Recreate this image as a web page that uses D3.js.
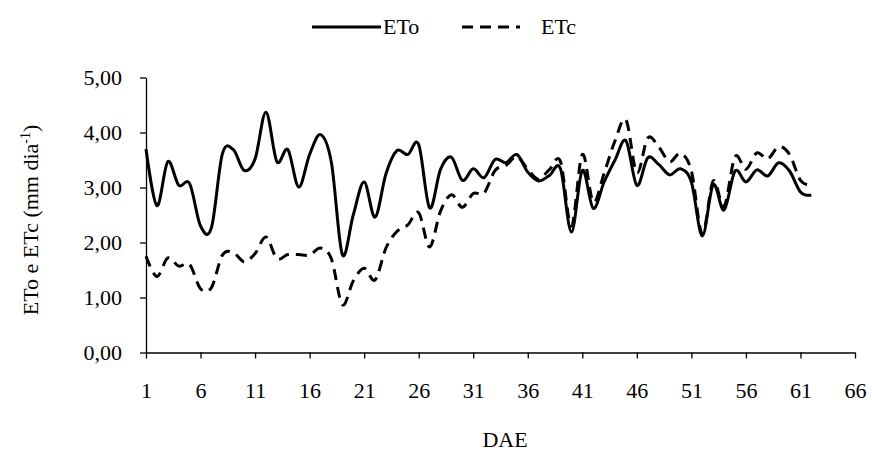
<!DOCTYPE html>
<html><head><meta charset="utf-8">
<script src="https://cdn.jsdelivr.net/npm/d3@7"></script>
<style>body{margin:0;background:#fff}svg{display:block}text{font-family:"Liberation Serif","Times New Roman",serif;fill:#000}</style>
</head><body><svg id="c" width="872" height="455"></svg>
<script>
const days = d3.range(1, 63);
const eto = [3.70,2.67,3.47,3.04,3.07,2.30,2.27,3.61,3.69,3.31,3.52,4.37,3.47,3.69,3.01,3.60,3.96,3.45,1.78,2.50,
  3.10,2.46,3.25,3.67,3.60,3.78,2.63,3.33,3.55,3.13,3.34,3.18,3.51,3.45,3.60,3.28,3.12,3.22,3.34,2.19,
  3.31,2.62,3.10,3.50,3.85,3.04,3.54,3.42,3.23,3.34,3.10,2.12,3.05,2.59,3.30,3.10,3.32,3.21,3.45,3.30,2.92,2.86];
const etc = [1.75,1.38,1.72,1.57,1.60,1.16,1.18,1.77,1.82,1.65,1.80,2.10,1.71,1.78,1.78,1.77,1.90,1.70,0.87,1.30,
  1.53,1.32,1.90,2.20,2.32,2.54,1.92,2.57,2.87,2.64,2.89,2.90,3.31,3.40,3.56,3.33,3.15,3.33,3.47,2.30,
  3.60,2.74,3.26,3.85,4.23,3.27,3.90,3.74,3.47,3.62,3.30,2.16,3.12,2.66,3.56,3.33,3.63,3.52,3.74,3.60,3.13,3.04];
const xTicks = [1,6,11,16,21,26,31,36,41,46,51,56,61,66];
const yTicks = [0,1,2,3,4,5];
const seriesNames = ["ETo","ETc"];

const svg = d3.select("#c");
const x = d3.scaleLinear().domain([1,66]).range([146,855]);
const y = d3.scaleLinear().domain([0,5]).range([352.5,77.5]);
const fmt = v => d3.format(".2f")(v).replace(".", ",");
const FS = 22;

const xa = svg.append("g").attr("transform","translate(0,352.5)")
  .call(d3.axisBottom(x).tickValues(xTicks).tickSize(6).tickPadding(24).tickSizeOuter(0));
const ya = svg.append("g").attr("transform","translate(146,0)")
  .call(d3.axisLeft(y).tickValues(yTicks).tickFormat(fmt).tickSize(6).tickPadding(18).tickSizeOuter(0));
[xa,ya].forEach(a=>{
  a.selectAll("path,line").attr("stroke","#000").attr("stroke-width",1.3);
  a.selectAll("text").attr("font-size",FS).attr("font-family","Liberation Serif");
});

const line = d3.line().x((d,i)=>x(days[i])).y(d=>y(d)).curve(d3.curveCardinal.tension(0));
svg.append("path").datum(eto).attr("d",line).attr("fill","none").attr("stroke","#000").attr("stroke-width",3);
svg.append("path").datum(etc).attr("d",line).attr("fill","none").attr("stroke","#000").attr("stroke-width",3)
  .attr("stroke-dasharray","11,7");

// legend
const lg = svg.append("g");
lg.append("line").attr("x1",312).attr("x2",381).attr("y1",27).attr("y2",27).attr("stroke","#000").attr("stroke-width",3);
lg.append("text").attr("x",383).attr("y",34).attr("font-size",FS).text(seriesNames[0]);
lg.append("line").attr("x1",462).attr("x2",520).attr("y1",27).attr("y2",27).attr("stroke","#000").attr("stroke-width",3).attr("stroke-dasharray","11,7");
lg.append("text").attr("x",541).attr("y",34).attr("font-size",FS).text(seriesNames[1]);

svg.append("text").attr("x",505).attr("y",447).attr("text-anchor","middle").attr("font-size",FS).text("DAE");
const yt = svg.append("text").attr("transform","translate(38,220) rotate(-90)").attr("text-anchor","middle").attr("font-size",FS);
yt.append("tspan").text("ETo e ETc (mm dia");
yt.append("tspan").attr("dy",-8).attr("font-size",14).text("-1");
yt.append("tspan").attr("dy",8).text(")");
</script></body></html>
